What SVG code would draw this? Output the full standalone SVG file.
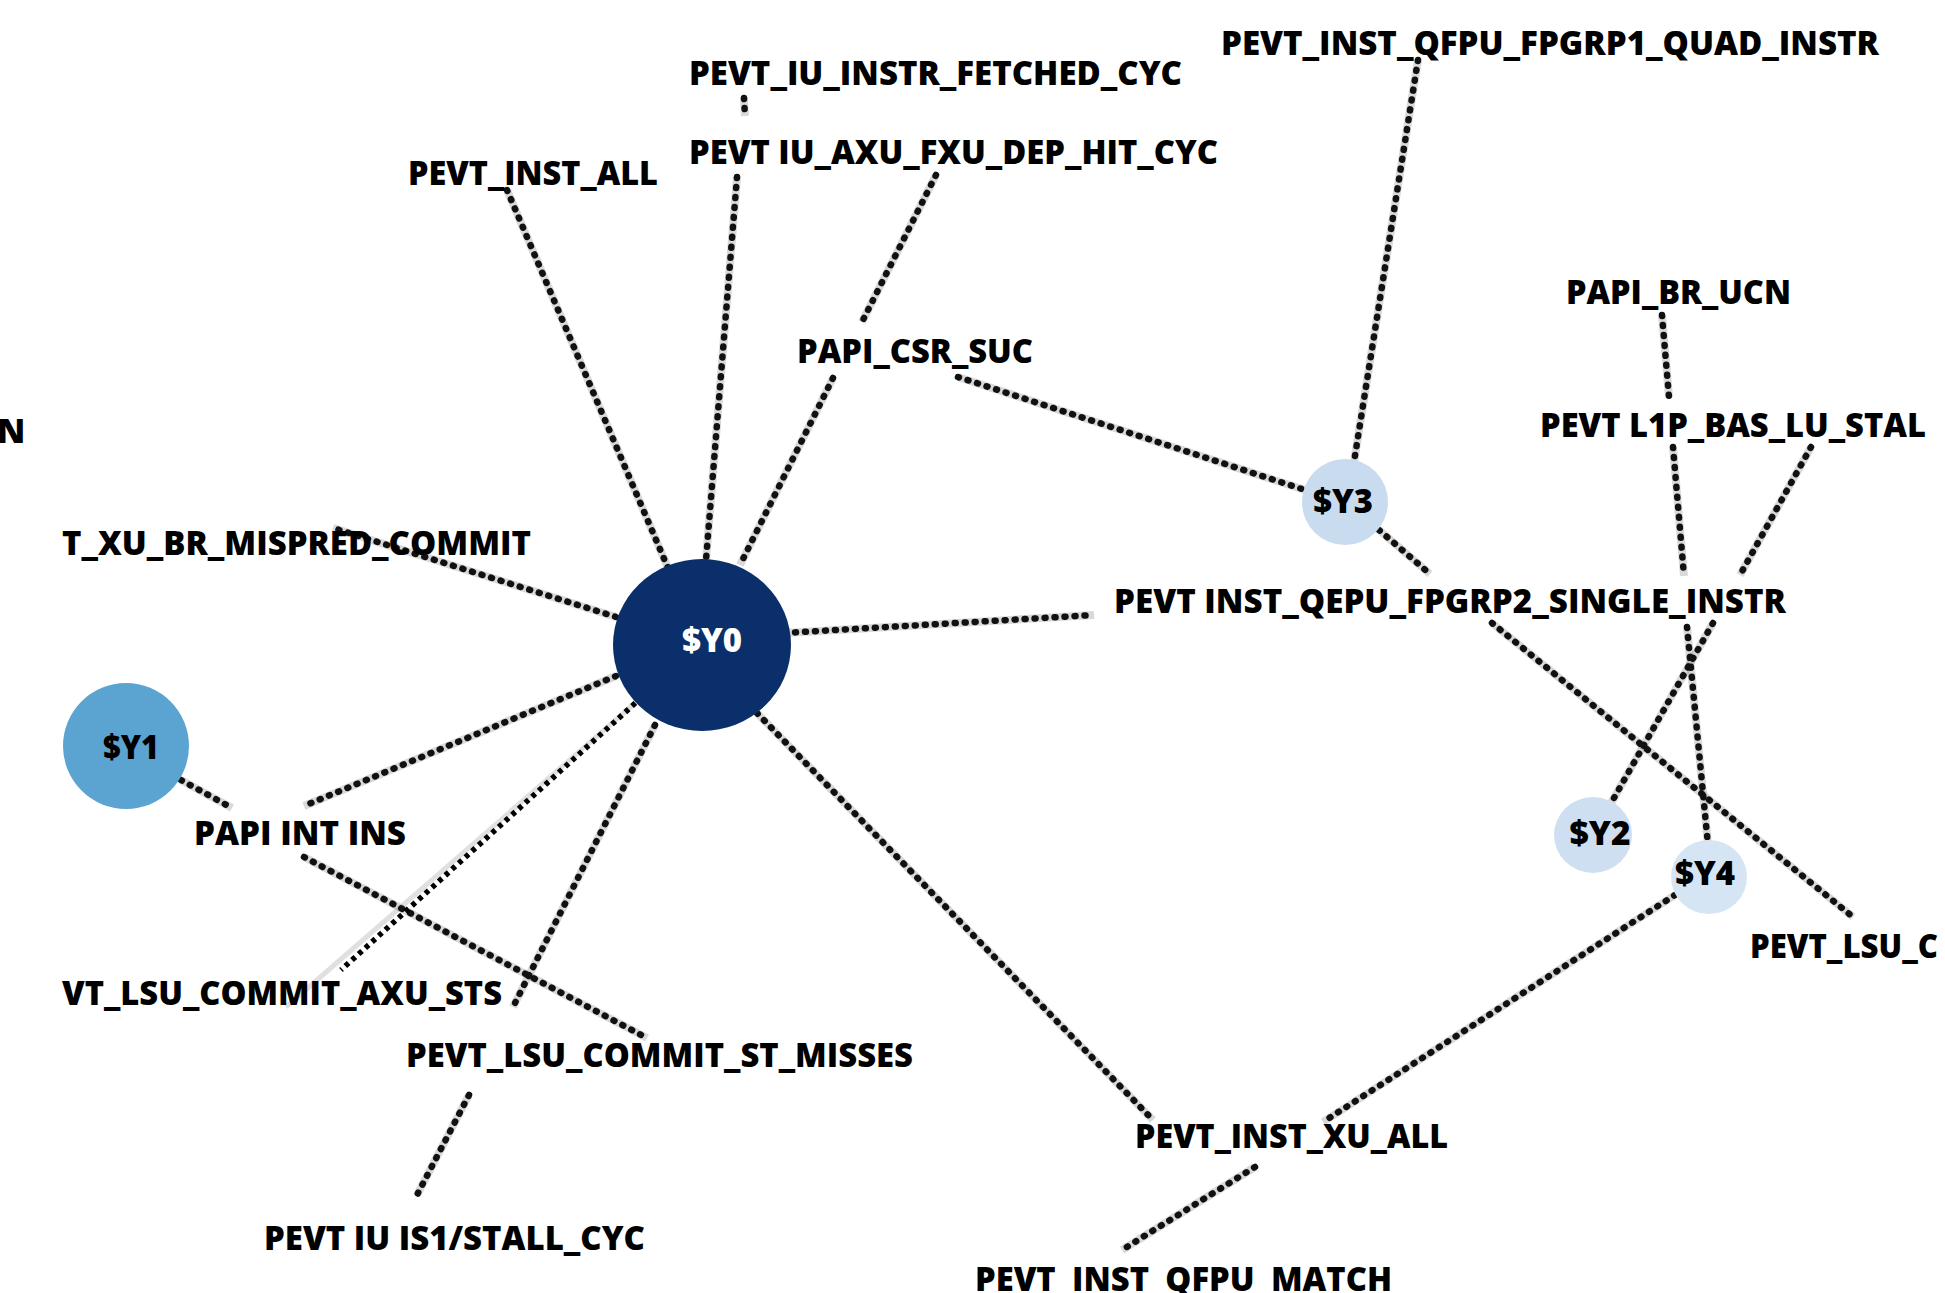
<svg xmlns="http://www.w3.org/2000/svg" width="1945" height="1293" viewBox="0 0 1945 1293">
<style>
.lbl{font-family:"Open Sans","Liberation Sans",sans-serif;font-weight:800;font-size:34px;fill:#000}
.nl{font-family:"Open Sans","Liberation Sans",sans-serif;font-weight:800;font-size:33px;text-anchor:middle}
.halo{fill:none;stroke:#000;stroke-opacity:.15;stroke-width:8}
.dot{fill:none;stroke:#111;stroke-width:6.5;stroke-linecap:round;stroke-dasharray:1 9}
.sharp{fill:none;stroke:#000;stroke-width:5.5;stroke-dasharray:4.5 4.5}
.faint{fill:none;stroke:#000;stroke-opacity:.12;stroke-width:5}
</style>
<rect width="1945" height="1293" fill="#fff"/>
<g id="connectors">
  <g class="halo">
    <path d="M507 190L668 568"/>
    <path d="M744 98L745 116"/>
    <path d="M737 177L706 560"/>
    <path d="M936 175L862 322"/>
    <path d="M833 378L740 565"/>
    <path d="M958 377L1305 490"/>
    <path d="M1418 60L1354 462"/>
    <path d="M1379 530L1430 574"/>
    <path d="M1492 623L1853 917"/>
    <path d="M785 633L1094 615"/>
    <path d="M1662 315L1669 397"/>
    <path d="M1673 447L1684 576"/>
    <path d="M1687 627L1708 845"/>
    <path d="M1811 447L1740 575"/>
    <path d="M1713 623L1610 805"/>
    <path d="M1675 895L1323 1122"/>
    <path d="M1255 1167L1122 1250"/>
    <path d="M757 713L1153 1120"/>
    <path d="M655 725L513 1007"/>
    <path d="M469 1095L417 1195"/>
    <path d="M181 780L232 808"/>
    <path d="M304 857L647 1038"/>
    <path d="M616 676L304 806"/>
    <path d="M616 617L333 528"/>
  </g>
  <path class="faint" d="M642 697L286 1007"/>
  <g class="dot">
    <path d="M507 190L668 568"/>
    <path d="M744 98L745 116"/>
    <path d="M737 177L706 560"/>
    <path d="M936 175L862 322"/>
    <path d="M833 378L740 565"/>
    <path d="M958 377L1305 490"/>
    <path d="M1418 60L1354 462"/>
    <path d="M1379 530L1430 574"/>
    <path d="M1492 623L1853 917"/>
    <path d="M785 633L1094 615"/>
    <path d="M1662 315L1669 397"/>
    <path d="M1673 447L1684 576"/>
    <path d="M1687 627L1708 845"/>
    <path d="M1811 447L1740 575"/>
    <path d="M1713 623L1610 805"/>
    <path d="M1675 895L1323 1122"/>
    <path d="M1255 1167L1122 1250"/>
    <path d="M757 713L1153 1120"/>
    <path d="M655 725L513 1007"/>
    <path d="M469 1095L417 1195"/>
    <path d="M181 780L232 808"/>
    <path d="M304 857L647 1038"/>
    <path d="M616 676L304 806"/>
    <path d="M616 617L333 528"/>
  </g>
  <path class="sharp" d="M642 697L341 970"/>
</g>
<g id="Y0"><ellipse cx="702" cy="645" rx="89" ry="86" fill="#0b2f6a"/><text class="nl" x="712" y="652" fill="#fff" textLength="60" lengthAdjust="spacingAndGlyphs">$Y0</text></g>
<g id="Y1"><ellipse cx="126" cy="746" rx="63" ry="63" fill="#5ba3d0"/><text class="nl" x="131" y="759" fill="#000" textLength="56" lengthAdjust="spacingAndGlyphs">$Y1</text></g>
<g id="Y2"><ellipse cx="1593" cy="835" rx="39" ry="38" fill="#cddff1"/><text class="nl" x="1600" y="845" fill="#000" textLength="61" lengthAdjust="spacingAndGlyphs">$Y2</text></g>
<g id="Y3"><ellipse cx="1345" cy="502" rx="43" ry="43" fill="#c9dcef"/><text class="nl" x="1343" y="513" fill="#000" textLength="60" lengthAdjust="spacingAndGlyphs">$Y3</text></g>
<g id="Y4"><ellipse cx="1709" cy="877" rx="38" ry="37" fill="#d6e5f4"/><text class="nl" x="1705" y="885" fill="#000" textLength="60" lengthAdjust="spacingAndGlyphs">$Y4</text></g>
<g id="n-fetched"><text class="lbl" x="689" y="85" textLength="493" lengthAdjust="spacingAndGlyphs">PEVT_IU_INSTR_FETCHED_CYC</text></g>
<g id="n-axu"><text class="lbl" x="689" y="164" textLength="529" lengthAdjust="spacingAndGlyphs">PEVT IU_AXU_FXU_DEP_HIT_CYC</text></g>
<g id="n-csr"><text class="lbl" x="797" y="363" textLength="236" lengthAdjust="spacingAndGlyphs">PAPI_CSR_SUC</text></g>
<g id="n-quad"><text class="lbl" x="1221" y="55" textLength="658" lengthAdjust="spacingAndGlyphs">PEVT_INST_QFPU_FPGRP1_QUAD_INSTR</text></g>
<g id="n-brucn"><text class="lbl" x="1566" y="304" textLength="225" lengthAdjust="spacingAndGlyphs">PAPI_BR_UCN</text></g>
<g id="n-l1p"><text class="lbl" x="1540" y="437" textLength="386" lengthAdjust="spacingAndGlyphs">PEVT L1P_BAS_LU_STAL</text></g>
<g id="n-install"><text class="lbl" x="408" y="185" textLength="250" lengthAdjust="spacingAndGlyphs">PEVT_INST_ALL</text></g>
<g id="n-n"><text class="lbl" x="-3" y="443">N</text></g>
<g id="n-mispred"><text class="lbl" x="62" y="555" textLength="469" lengthAdjust="spacingAndGlyphs">T_XU_BR_MISPRED_COMMIT</text></g>
<g id="n-intins"><text class="lbl" x="194" y="845" textLength="212" lengthAdjust="spacingAndGlyphs">PAPI INT INS</text></g>
<g id="n-axusts"><text class="lbl" x="62" y="1005" textLength="440" lengthAdjust="spacingAndGlyphs">VT_LSU_COMMIT_AXU_STS</text></g>
<g id="n-stmisses"><text class="lbl" x="406" y="1067" textLength="507" lengthAdjust="spacingAndGlyphs">PEVT_LSU_COMMIT_ST_MISSES</text></g>
<g id="n-stall"><text class="lbl" x="264" y="1250" textLength="381" lengthAdjust="spacingAndGlyphs">PEVT IU IS1/STALL_CYC</text></g>
<g id="n-xuall"><text class="lbl" x="1135" y="1148" textLength="313" lengthAdjust="spacingAndGlyphs">PEVT_INST_XU_ALL</text></g>
<g id="n-match"><text class="lbl" x="975" y="1291" textLength="417" lengthAdjust="spacingAndGlyphs">PEVT_INST_QFPU_MATCH</text></g>
<g id="n-single"><text class="lbl" x="1114" y="613" textLength="672" lengthAdjust="spacingAndGlyphs">PEVT INST_QEPU_FPGRP2_SINGLE_INSTR</text></g>
<g id="n-lsuc"><text class="lbl" x="1750" y="958" textLength="188" lengthAdjust="spacingAndGlyphs">PEVT_LSU_C</text></g>
</svg>
